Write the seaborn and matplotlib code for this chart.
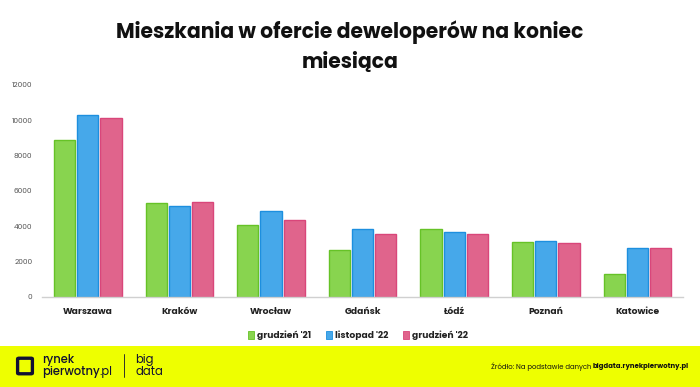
import matplotlib
matplotlib.use("Agg")
import matplotlib.pyplot as plt
import seaborn as sns
import pandas as pd
from matplotlib.patches import Rectangle, FancyBboxPatch

cities = ["Warszawa", "Kraków", "Wrocław", "Gdańsk", "Łódź", "Poznań", "Katowice"]
series_names = ["grudzień '21", "listopad '22", "grudzień '22"]
grudzien_21 = [8900, 5320, 4080, 2660, 3850, 3110, 1300]
listopad_22 = [10300, 5150, 4870, 3850, 3680, 3170, 2770]
grudzien_22 = [10150, 5380, 4360, 3560, 3580, 3050, 2770]
yticks = [0, 2000, 4000, 6000, 8000, 10000, 12000]

fill_colors = ["#88d44f", "#46a8ea", "#e0648c"]
edge_colors = ["#66c227", "#1d8fdf", "#d9467a"]

rows = []
for s, vals in zip(series_names, [grudzien_21, listopad_22, grudzien_22]):
    for c, v in zip(cities, vals):
        rows.append({"city": c, "series": s, "value": v})
df = pd.DataFrame(rows)

sns.set_theme(style="white")
plt.rcParams["font.family"] = ["Poppins", "Open Sans", "DejaVu Sans"]

fig = plt.figure(figsize=(7, 3.87), dpi=100)
ax = fig.add_axes([0.06, 0.2326, 0.916, 0.5478])

sns.barplot(data=df, x="city", y="value", hue="series", palette=fill_colors,
            saturation=1, width=0.76, gap=0.08, ax=ax, legend=False, errorbar=None)

for i, cont in enumerate(ax.containers):
    for p in cont:
        p.set_edgecolor(edge_colors[i])
        p.set_linewidth(1.0)

ax.set_ylim(0, 12000)
ax.set_xlim(-0.5, 6.5)
ax.set_yticks(yticks)
ax.set_yticklabels([str(t) for t in yticks], fontsize=5.3, color="#555555")
ax.tick_params(axis="y", length=0, pad=7)
ax.tick_params(axis="x", length=0, pad=7)
for lbl in ax.get_xticklabels():
    lbl.set_fontsize(6.6)
    lbl.set_fontweight("bold")
    lbl.set_color("#222222")
ax.set_xlabel("")
ax.set_ylabel("")
for sp in ["top", "right", "left"]:
    ax.spines[sp].set_visible(False)
ax.spines["bottom"].set_color("#d0d0d0")
ax.spines["bottom"].set_linewidth(1.0)

fig.text(0.5, 0.917, "Mieszkania w ofercie deweloperów na koniec", ha="center", va="center",
         fontsize=14.6, fontweight="bold", color="#111111")
fig.text(0.5, 0.836, "miesiąca", ha="center", va="center",
         fontsize=14.6, fontweight="bold", color="#111111")

# legend
leg_y = 1 - 335 / 387
lx = [248, 326, 403]
for i, s in enumerate(series_names):
    fig.patches.append(Rectangle((lx[i] / 700, leg_y - 4 / 387), 6 / 700, 8 / 387,
                                 transform=fig.transFigure, facecolor=fill_colors[i],
                                 edgecolor=edge_colors[i], lw=0.6))
    fig.text((lx[i] + 9) / 700, leg_y, s, ha="left", va="center", fontsize=6.6,
             fontweight="bold", color="#222222")

# footer band
fig.patches.append(Rectangle((0, 0), 1, 41 / 387, transform=fig.transFigure,
                             facecolor="#eeff00", edgecolor="none", zorder=0))
fig.patches.append(FancyBboxPatch((19 / 700, 14 / 387), 12 / 700, 14 / 387,
                                  boxstyle="round,pad=0.002", transform=fig.transFigure,
                                  facecolor="none", edgecolor="#111133", lw=2.4))
fig.canvas.draw()
r = fig.canvas.get_renderer()
fig.text(42 / 700, 27 / 387, "rynek", fontsize=8.3, fontweight="medium", color="#111133",
         ha="left", va="center")
t_pw = fig.text(42 / 700, 15 / 387, "pierwotny", fontsize=8.3, fontweight="medium",
                color="#111133", ha="left", va="center")
w = t_pw.get_window_extent(r).width
fig.text((42 + w) / 700, 15 / 387, ".pl", fontsize=8.3, fontweight="normal", color="#111133",
         ha="left", va="center")
fig.add_artist(plt.Line2D([124 / 700, 124 / 700], [10 / 387, 33 / 387],
                          transform=fig.transFigure, color="#111133", lw=0.6))
fig.text(135 / 700, 27 / 387, "big", fontsize=8.3, fontweight="normal", color="#111133",
         ha="left", va="center")
fig.text(135 / 700, 15 / 387, "data", fontsize=8.3, fontweight="normal", color="#111133",
         ha="left", va="center")
t_b = fig.text(689 / 700, 20 / 387, "bigdata.rynekpierwotny.pl", fontsize=5.0,
               fontweight="bold", color="#111111", ha="right", va="center")
wb = t_b.get_window_extent(r).width
fig.text((689 - wb) / 700, 20 / 387, "Źródło: Na podstawie danych ", fontsize=5.0,
         color="#111111", ha="right", va="center")

fig.savefig("out.png", dpi=100)
